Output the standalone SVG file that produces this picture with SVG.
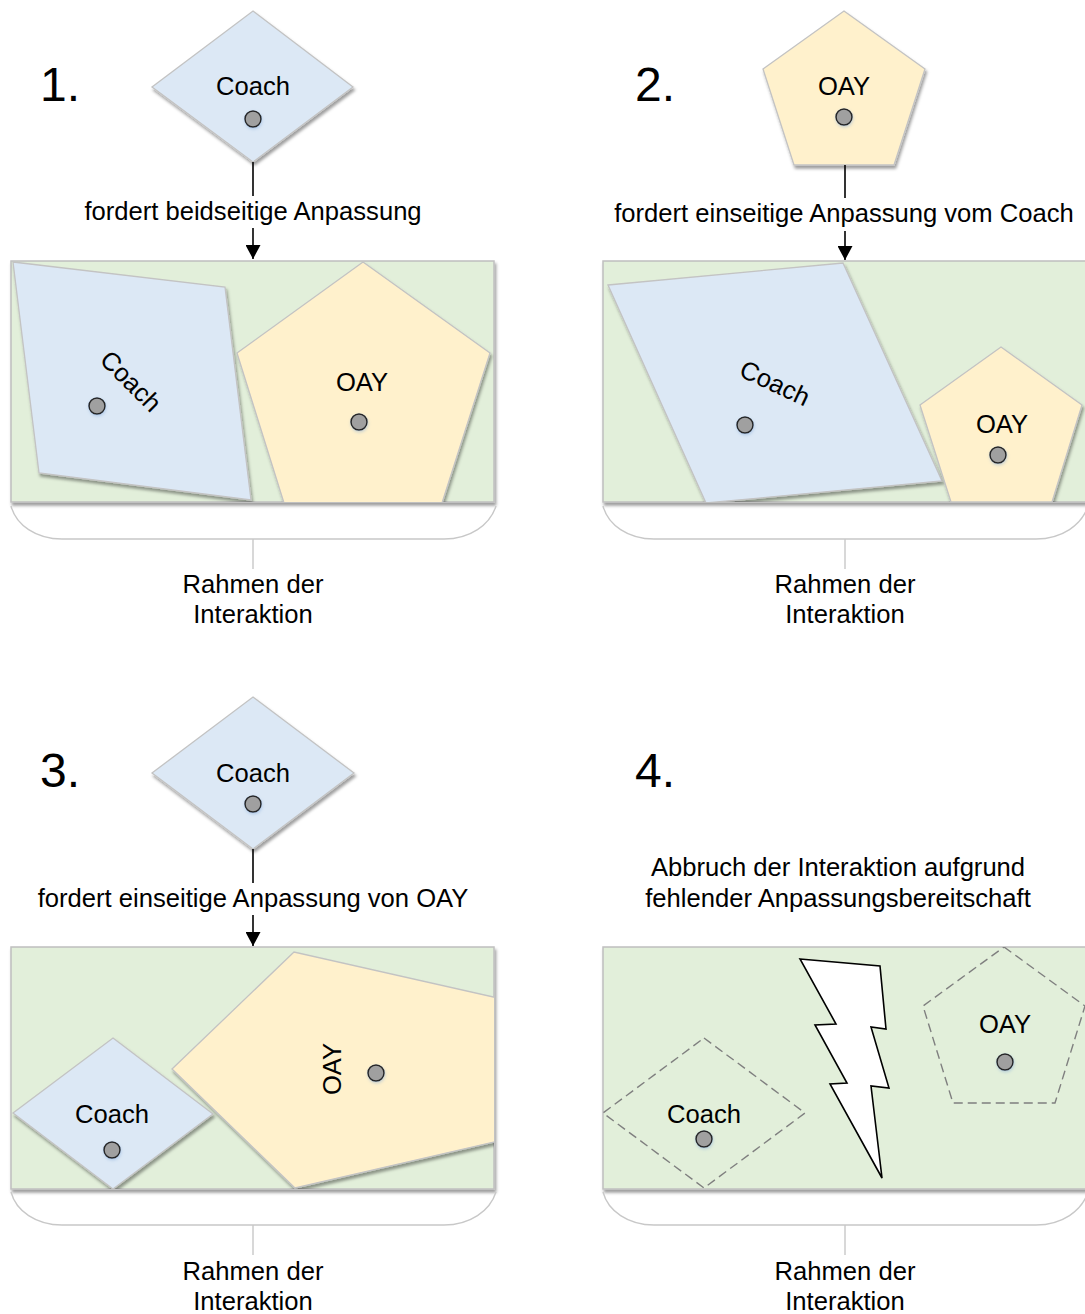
<svg xmlns="http://www.w3.org/2000/svg" width="1085" height="1314" viewBox="0 0 1085 1314">
  <style>
    text { font-family: "Liberation Sans", Arial, sans-serif; fill: #000; }
    .num { font-size: 48px; }
    .lbl { font-size: 25.6px; text-anchor: middle; }
    .frame { fill: #e2efda; stroke: #bfbfbf; stroke-width: 1.5; }
    .coach { fill: #dce8f5; stroke: #c3c3c3; stroke-width: 1.3; }
    .oay { fill: #fff1cc; stroke: #c3c3c3; stroke-width: 1.3; }
    .dash { fill: none; stroke: #7f7f7f; stroke-width: 1.4; stroke-dasharray: 9 5; }
    .dot { fill: #a0a0a0; stroke: #262626; stroke-width: 1.5; }
    .brace { fill: none; stroke: #c8c8c8; stroke-width: 1.4; }
    .link { fill: none; stroke: #000; stroke-width: 1.6; }
    .bolt { fill: #fff; stroke: #000; stroke-width: 1.6; stroke-linejoin: miter; }
  </style>
  <defs>
    <filter id="shadow" x="-10%" y="-10%" width="125%" height="130%">
      <feDropShadow dx="1.5" dy="3" stdDeviation="1.8" flood-color="#000" flood-opacity="0.38"/>
    </filter>
    <filter id="glow" x="-50%" y="-50%" width="200%" height="200%">
      <feDropShadow dx="0.5" dy="1.5" stdDeviation="1.5" flood-color="#7ea6d8" flood-opacity="0.45"/>
    </filter>
    <!-- arrowhead drawn along +x so orient="auto" follows the line -->
    <marker id="arrow" markerWidth="14" markerHeight="15" refX="14" refY="7.5" orient="auto" markerUnits="userSpaceOnUse" viewBox="0 0 14 15">
      <path d="M0,0 L14,7.5 L0,15 Z" fill="#000"/>
    </marker>
    <clipPath id="clip1"><rect x="11" y="261" width="483" height="241"/></clipPath>
    <clipPath id="clip2"><rect x="603" y="261" width="483" height="241"/></clipPath>
    <clipPath id="clip3"><rect x="11" y="947" width="483" height="242"/></clipPath>
    <clipPath id="clip4"><rect x="603" y="947" width="483" height="242"/></clipPath>
  </defs>

  <!-- step numbers -->
  <text class="num" x="40" y="101">1.</text>
  <text class="num" x="635" y="101">2.</text>
  <text class="num" x="40" y="787">3.</text>
  <text class="num" x="635" y="787">4.</text>

  <!-- ===== Step 1 ===== -->
  <g id="coach-1">
    <polygon class="coach" filter="url(#shadow)" points="253,11 353,87 253,162 152,87"/>
    <text class="lbl" x="253" y="95">Coach</text>
    <circle class="dot" filter="url(#glow)" cx="253" cy="119" r="8"/>
  </g>
  <g id="frame-1">
    <rect class="frame" filter="url(#shadow)" x="11" y="261" width="483" height="241"/>
    <g clip-path="url(#clip1)">
      <g id="frame-1-coach">
        <polygon class="coach" filter="url(#shadow)" points="13,262 225,287 251,500 39,473"/>
        <text class="lbl" transform="translate(131,381) rotate(45)" x="0" y="9">Coach</text>
        <circle class="dot" filter="url(#glow)" cx="97" cy="406" r="8"/>
      </g>
      <g id="frame-1-oay">
        <polygon class="oay" filter="url(#shadow)" points="363,262 490,353 442,503 284,503 237,353"/>
        <text class="lbl" x="362" y="391">OAY</text>
        <circle class="dot" filter="url(#glow)" cx="359" cy="422" r="8"/>
      </g>
    </g>
  </g>
  <g id="brace-1">
    <path class="brace" d="M11,506 C16,525 36,539 62,539 L444,539 C470,539 490,525 496,506"/>
    <line class="brace" x1="253" y1="539" x2="253" y2="569"/>
    <text class="lbl" x="253" y="593">Rahmen der</text>
    <text class="lbl" x="253" y="623">Interaktion</text>
  </g>

  <!-- ===== Step 2 ===== -->
  <g id="oay-2">
    <polygon class="oay" filter="url(#shadow)" points="844,11 925,69 894,165 794,165 763,69"/>
    <text class="lbl" x="844" y="95">OAY</text>
    <circle class="dot" filter="url(#glow)" cx="844" cy="117" r="8"/>
  </g>
  <g id="frame-2">
    <rect class="frame" filter="url(#shadow)" x="603" y="261" width="483" height="241"/>
    <g clip-path="url(#clip2)">
      <g id="frame-2-coach">
        <polygon class="coach" filter="url(#shadow)" points="608,285 843,263 942,481 706,503"/>
        <text class="lbl" transform="translate(775,383) rotate(25)" x="0" y="9">Coach</text>
        <circle class="dot" filter="url(#glow)" cx="745" cy="425" r="8"/>
      </g>
      <g id="frame-2-oay">
        <polygon class="oay" filter="url(#shadow)" points="1001,347 1082,405 1052,502 951,502 920,405"/>
        <text class="lbl" x="1002" y="433">OAY</text>
        <circle class="dot" filter="url(#glow)" cx="998" cy="455" r="8"/>
      </g>
    </g>
  </g>
  <g id="brace-2">
    <path class="brace" d="M603,506 C608,525 628,539 654,539 L1036,539 C1062,539 1082,525 1088,506"/>
    <line class="brace" x1="845" y1="539" x2="845" y2="569"/>
    <text class="lbl" x="845" y="593">Rahmen der</text>
    <text class="lbl" x="845" y="623">Interaktion</text>
  </g>

  <!-- ===== Step 3 ===== -->
  <g id="coach-3">
    <polygon class="coach" filter="url(#shadow)" points="253,697 354,773 253,849 152,773"/>
    <text class="lbl" x="253" y="782">Coach</text>
    <circle class="dot" filter="url(#glow)" cx="253" cy="804" r="8"/>
  </g>
  <g id="frame-3">
    <rect class="frame" filter="url(#shadow)" x="11" y="947" width="483" height="242"/>
    <g clip-path="url(#clip3)">
      <g id="frame-3-oay">
        <polygon class="oay" filter="url(#shadow)" points="172,1069 294,952 520,1003 520,1136 295,1188"/>
        <text class="lbl" transform="translate(332,1069) rotate(-90)" x="0" y="9">OAY</text>
        <circle class="dot" filter="url(#glow)" cx="376" cy="1073" r="8"/>
      </g>
      <g id="frame-3-coach">
        <polygon class="coach" filter="url(#shadow)" points="113,1038 213,1114 113,1189 13,1113"/>
        <text class="lbl" x="112" y="1123">Coach</text>
        <circle class="dot" filter="url(#glow)" cx="112" cy="1150" r="8"/>
      </g>
    </g>
  </g>
  <g id="brace-3">
    <path class="brace" d="M11,1192 C16,1211 36,1225 62,1225 L444,1225 C470,1225 490,1211 496,1192"/>
    <line class="brace" x1="253" y1="1225" x2="253" y2="1255"/>
    <text class="lbl" x="253" y="1280">Rahmen der</text>
    <text class="lbl" x="253" y="1310">Interaktion</text>
  </g>

  <!-- ===== Step 4 ===== -->
  <g id="caption-4">
    <text class="lbl" x="838" y="876">Abbruch der Interaktion aufgrund</text>
    <text class="lbl" x="838" y="907">fehlender Anpassungsbereitschaft</text>
  </g>
  <g id="frame-4">
    <rect class="frame" filter="url(#shadow)" x="603" y="947" width="483" height="242"/>
    <g clip-path="url(#clip4)">
      <g id="frame-4-coach">
        <polygon class="dash" points="704,1038 805,1113 704,1188 603,1113"/>
        <text class="lbl" x="704" y="1123">Coach</text>
        <circle class="dot" filter="url(#glow)" cx="704" cy="1139" r="8"/>
      </g>
      <g id="frame-4-bolt">
        <polygon class="bolt" points="800,959 880,966 886,1029 871,1027 889,1088 871,1086 882,1178 830,1084 847,1083 815,1025 836,1024"/>
      </g>
      <g id="frame-4-oay">
        <polygon class="dash" points="1004,947 1085,1006 1055,1103 953,1103 923,1006"/>
        <text class="lbl" x="1005" y="1033">OAY</text>
        <circle class="dot" filter="url(#glow)" cx="1005" cy="1062" r="8"/>
      </g>
    </g>
  </g>
  <g id="brace-4">
    <path class="brace" d="M603,1192 C608,1211 628,1225 654,1225 L1036,1225 C1062,1225 1082,1211 1088,1192"/>
    <line class="brace" x1="845" y1="1225" x2="845" y2="1255"/>
    <text class="lbl" x="845" y="1280">Rahmen der</text>
    <text class="lbl" x="845" y="1310">Interaktion</text>
  </g>

  <!-- demand connectors with labels -->
  <g id="connectors">
    <line class="link" x1="253" y1="162" x2="253" y2="196"/>
    <line class="link" x1="253" y1="228" x2="253" y2="259" marker-end="url(#arrow)"/>
    <text class="lbl" x="253" y="220">fordert beidseitige Anpassung</text>

    <line class="link" x1="845" y1="165" x2="845" y2="198"/>
    <line class="link" x1="845" y1="231" x2="845" y2="260" marker-end="url(#arrow)"/>
    <text class="lbl" x="844" y="222">fordert einseitige Anpassung vom Coach</text>

    <line class="link" x1="253" y1="849" x2="253" y2="883"/>
    <line class="link" x1="253" y1="915" x2="253" y2="946" marker-end="url(#arrow)"/>
    <text class="lbl" x="253" y="907">fordert einseitige Anpassung von OAY</text>
  </g>
</svg>
